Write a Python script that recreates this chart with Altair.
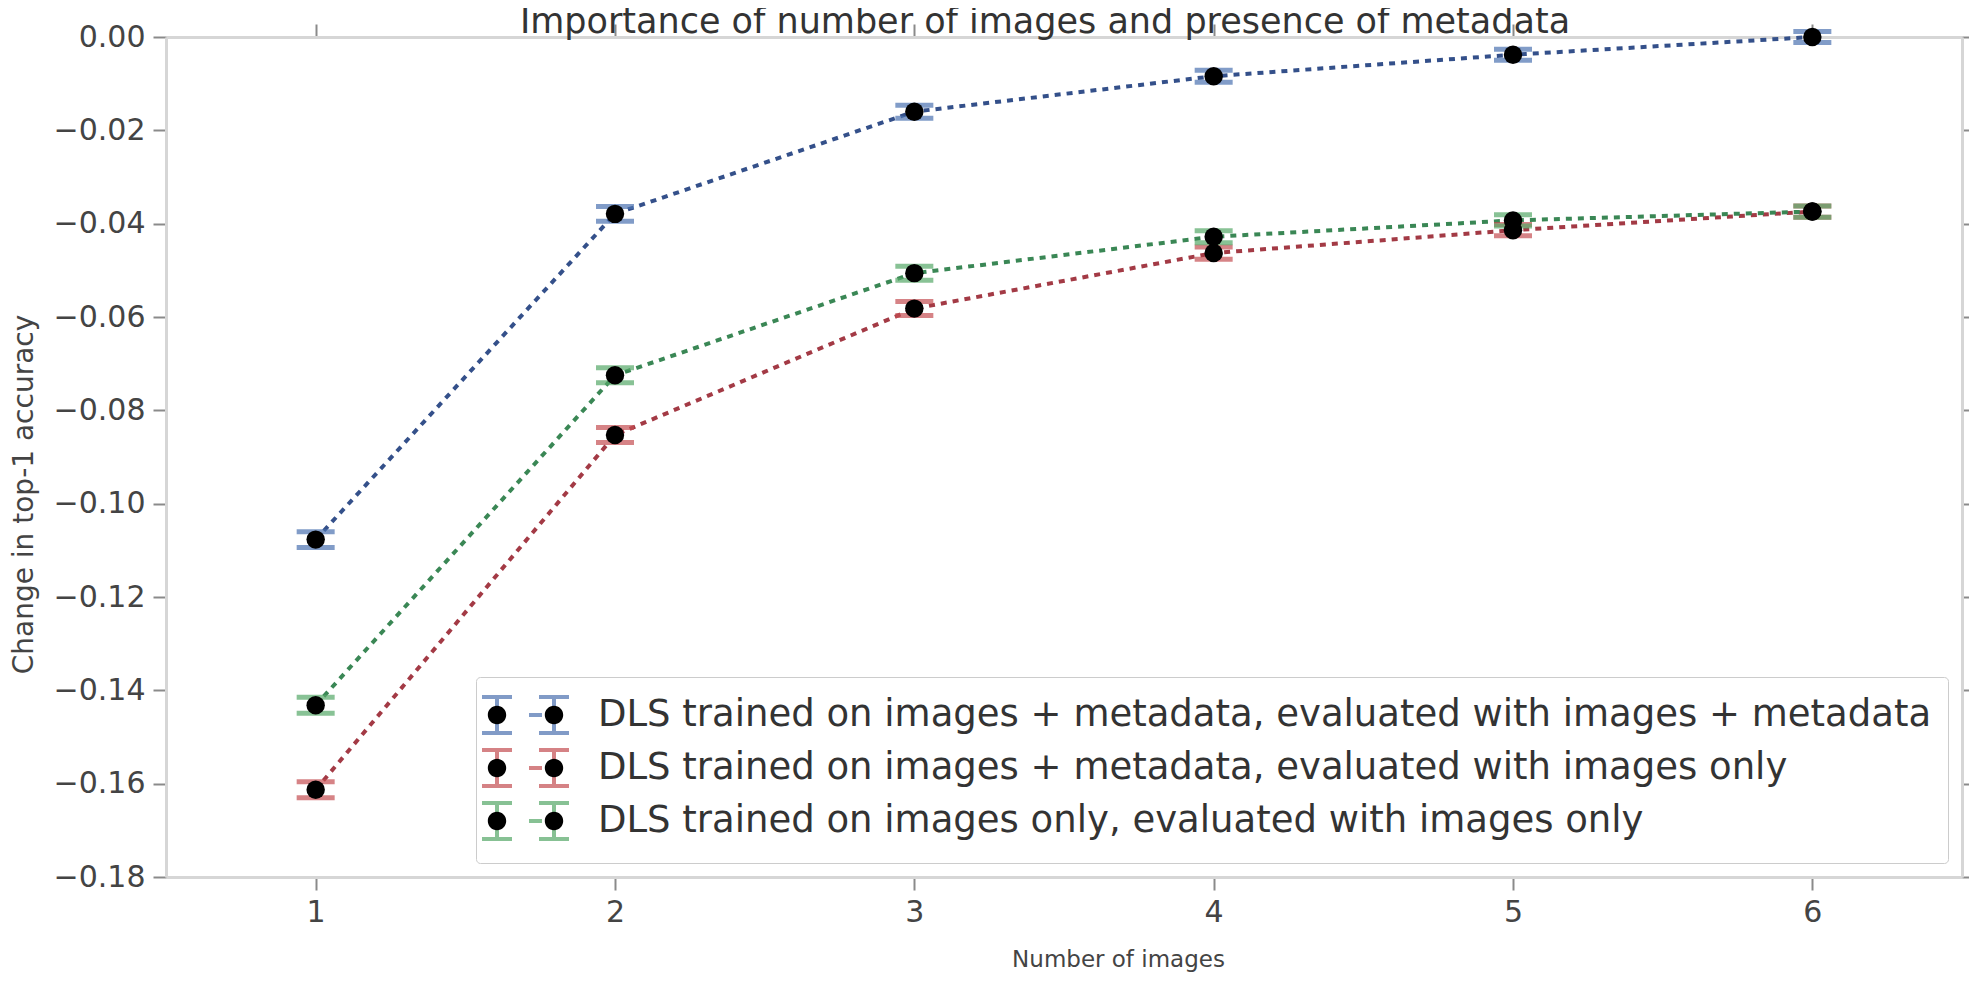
import altair as alt
import pandas as pd

num_images = [1, 2, 3, 4, 5, 6]
series_names = [
    "DLS trained on images + metadata, evaluated with images + metadata",
    "DLS trained on images + metadata, evaluated with images only",
    "DLS trained on images only, evaluated with images only",
]
acc_meta_meta = [-0.1077, -0.0379, -0.0160, -0.0084, -0.0038, 0.0000]
acc_meta_img = [-0.1613, -0.0853, -0.0582, -0.0463, -0.0414, -0.0374]
acc_img_img = [-0.1432, -0.0725, -0.0506, -0.0428, -0.0393, -0.0374]
err_meta_meta = [0.0017, 0.0016, 0.0014, 0.0013, 0.0012, 0.0012]
err_meta_img = [0.0017, 0.0016, 0.0015, 0.0013, 0.0012, 0.0012]
err_img_img = [0.0017, 0.0016, 0.0015, 0.0013, 0.0012, 0.0012]

y_ticks = [0.0, -0.02, -0.04, -0.06, -0.08, -0.10, -0.12, -0.14, -0.16, -0.18]
cap_colors = ["#4C72B0", "#C44E52", "#55A868"]
line_colors = ["#34508A", "#A33A45", "#3A8755"]

rows = []
for name, vals, errs in zip(series_names,
                            [acc_meta_meta, acc_meta_img, acc_img_img],
                            [err_meta_meta, err_meta_img, err_img_img]):
    for n, v, e in zip(num_images, vals, errs):
        rows.append({"n": n, "value": v, "err": e, "series": name,
                     "series_b": name, "series_c": name})
df = pd.DataFrame(rows)

FONT = "DejaVu Sans"
xs = alt.Scale(domain=[0.5, 6.5], nice=False, zero=False)
ys = alt.Scale(domain=[-0.18, 0.0], nice=False, zero=False)

bottom_axis = alt.Axis(orient="bottom", values=num_images, format="d",
                       title="Number of images", labelPadding=7, titlePadding=21,
                       titleFontSize=23, titleX=952)
left_axis = alt.Axis(orient="left", values=y_ticks, format=".2f",
                     title="Change in top-1 accuracy", labelPadding=8, titlePadding=15,
                     titleY=457)
top_axis = alt.Axis(orient="top", values=num_images, labels=False, title=None)
right_axis = alt.Axis(orient="right", values=y_ticks, labels=False, title=None)

# legend symbols (custom paths): error-bar caps and two black markers
bars_path = ("M-1.6,-0.9H-0.1M-1.6,0.9H-0.1M-0.85,-0.9V0.9"
             "M1.25,-0.9H2.75M1.25,0.9H2.75M2.0,-0.9V0.9")
u = bars_path + "M0.75,0H1.4"
dots = ("M-0.39,0A0.46,0.46,0,1,1,-1.31,0A0.46,0.46,0,1,1,-0.39,0Z"
        "M2.46,0A0.46,0.46,0,1,1,1.54,0A0.46,0.46,0,1,1,2.46,0Z") + bars_path + "M0.75,0H1.4"

common_leg = dict(title=None, orient="none", legendX=310, legendY=640,
                  symbolSize=1600, symbolStrokeWidth=4, labelFontSize=37,
                  labelFont=FONT, labelLimit=0, labelOffset=62, padding=16,
                  rowPadding=1)
legend1 = alt.Legend(symbolType=u, labelColor="#333333", fillColor="white",
                     strokeColor="#cccccc", cornerRadius=4,
                     symbolFillColor="transparent", **common_leg)
legend2 = alt.Legend(symbolType=dots, labelColor="transparent",
                     symbolStrokeColor="transparent", **common_leg)

base = alt.Chart(df).transform_calculate(
    lo="datum.value - datum.err", hi="datum.value + datum.err"
)

bars = base.mark_rule(strokeWidth=4).encode(
    x=alt.X("n:Q", scale=xs, axis=bottom_axis),
    y=alt.Y("lo:Q", scale=ys, axis=left_axis),
    y2="hi:Q",
    color=alt.Color("series:N", scale=alt.Scale(domain=series_names, range=cap_colors), legend=legend1),
)

lines = base.mark_line(strokeDash=[6, 6], strokeWidth=4).encode(
    x=alt.X("n:Q", scale=xs, axis=None),
    y=alt.Y("value:Q", scale=ys, axis=None),
    stroke=alt.Stroke("series_c:N", scale=alt.Scale(range=line_colors), legend=None),
)

caps = base.transform_fold(["lo", "hi"], as_=["which", "capy"]).mark_tick(
    orient="horizontal", size=34, thickness=1, filled=False, strokeWidth=4
).encode(
    x=alt.X("n:Q", scale=xs, axis=None),
    y=alt.Y("capy:Q", scale=ys, axis=None),
    color=alt.Color("series:N", scale=alt.Scale(domain=series_names, range=cap_colors), legend=legend1),
)

points = base.mark_circle(size=340, opacity=1).encode(
    x=alt.X("n:Q", scale=xs, axis=None),
    y=alt.Y("value:Q", scale=ys, axis=None),
    fill=alt.Fill("series_b:N", scale=alt.Scale(range=["#000000", "#000000", "#000000"]), legend=legend2),
)

frame = base.mark_point(opacity=0).encode(
    x=alt.X("n:Q", scale=xs, axis=top_axis),
    y=alt.Y("value:Q", scale=ys, axis=right_axis),
)

chart = alt.layer(bars, lines, caps, points, frame).resolve_axis(
    x="independent", y="independent"
).properties(
    width=1796, height=840,
    padding={"left": 158, "top": 29, "right": 7, "bottom": 102},
    autosize=alt.AutoSizeParams(type="none"),
    title=alt.TitleParams("Importance of number of images and presence of metadata",
                          fontSize=35, font=FONT, fontWeight="normal", color="#333333",
                          anchor="middle", dx=-19, dy=18, offset=0),
).configure_view(stroke=None).configure_axis(
    grid=False, domainColor="#d6d6d6", domainWidth=3, tickColor="#8a8a8a",
    tickWidth=2, tickSize=13, labelFont=FONT, labelFontSize=30, labelColor="#444444",
    titleFont=FONT, titleFontSize=28, titleColor="#444444", titleFontWeight="normal",
)

chart.save("out.html", embed_options={"renderer": "svg", "actions": False})
